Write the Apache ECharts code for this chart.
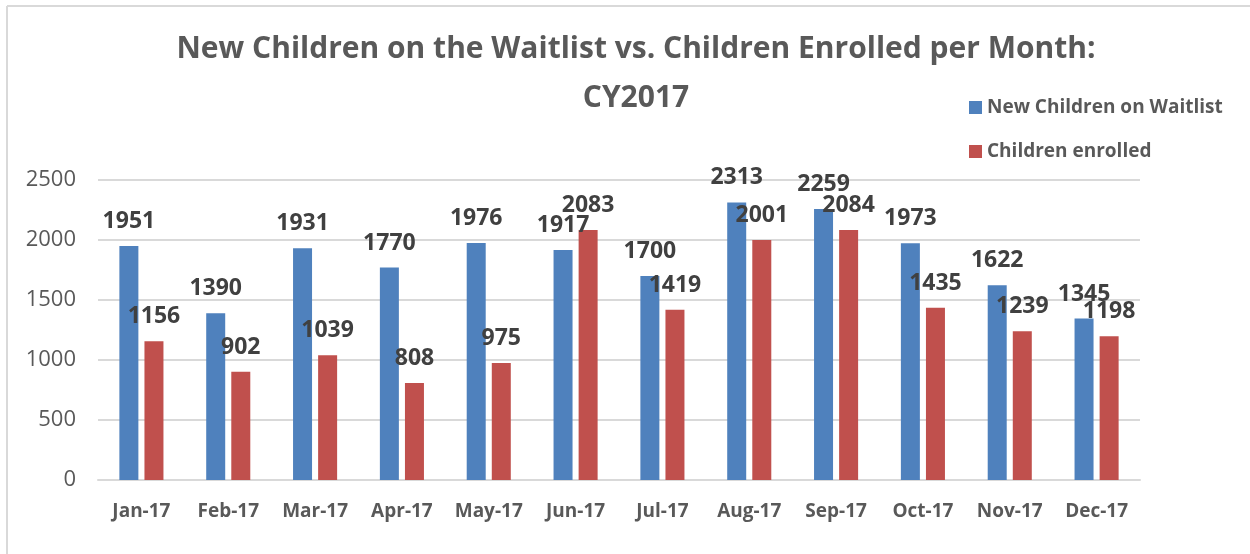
<!DOCTYPE html>
<html>
<head>
<meta charset="utf-8">
<script src="https://cdn.jsdelivr.net/npm/echarts@6/dist/echarts.min.js"></script>
<style>
  html, body { margin: 0; padding: 0; background: #fff; }
  #main { width: 1250px; height: 554px; }
</style>
</head>
<body>
<div id="main"></div>
<script>
var months = ["Jan-17", "Feb-17", "Mar-17", "Apr-17", "May-17", "Jun-17",
  "Jul-17", "Aug-17", "Sep-17", "Oct-17", "Nov-17", "Dec-17"];
var waitlist = [1951, 1390, 1931, 1770, 1976, 1917, 1700, 2313, 2259, 1973, 1622, 1345];
var enrolled = [1156, 902, 1039, 808, 975, 2083, 1419, 2001, 2084, 1435, 1239, 1198];
var yTicks = [0, 500, 1000, 1500, 2000, 2500];

var myChart = echarts.init(document.getElementById("main"));
window.addEventListener("resize", function () {
  myChart.resize();
});

var textColor = "#595959";
var fontName = "'Open Sans', 'Liberation Sans', sans-serif";

var labelStyle = {
  show: true,
  position: "top",
  distance: 13,
  color: "#404040",
  fontSize: 23,
  fontWeight: "bold",
  fontFamily: fontName
};

option = {
  animation: false,
  backgroundColor: "#fff",
  title: {
    text: "New Children on the Waitlist vs. Children Enrolled per Month:\nCY2017",
    left: 631,
    textAlign: "center",
    top: 20,
    textStyle: {
      color: textColor,
      fontSize: 30,
      fontWeight: "bold",
      fontFamily: fontName,
      lineHeight: 49
    }
  },
  legend: {
    orient: "vertical",
    left: 964,
    top: 93,
    itemGap: 25,
    itemWidth: 13,
    itemHeight: 13,
    icon: "rect",
    textStyle: {
      color: textColor,
      fontSize: 19,
      fontWeight: "bold",
      fontFamily: fontName
    }
  },
  graphic: [
    { type: "line", shape: { x1: 7, y1: 6, x2: 1250, y2: 6 }, style: { stroke: "#d9d9d9", lineWidth: 2 } },
    { type: "line", shape: { x1: 7, y1: 6, x2: 7, y2: 554 }, style: { stroke: "#d9d9d9", lineWidth: 2 } }
  ],
  grid: { left: 98, right: 110, top: 180, bottom: 74 },
  xAxis: {
    type: "category",
    data: months,
    axisTick: { show: false },
    axisLine: { lineStyle: { color: "#d9d9d9", width: 2 } },
    axisLabel: {
      interval: 0,
      color: textColor,
      fontSize: 19,
      fontWeight: "bold",
      fontFamily: fontName,
      margin: 22
    }
  },
  yAxis: {
    type: "value",
    min: yTicks[0],
    max: yTicks[yTicks.length - 1],
    interval: yTicks[1] - yTicks[0],
    axisLine: { show: false },
    axisTick: { show: false },
    splitLine: { lineStyle: { color: "#d9d9d9", width: 2 } },
    axisLabel: {
      color: textColor,
      fontSize: 22,
      fontFamily: fontName,
      margin: 22,
      formatter: function (v) { return String(v); }
    }
  },
  series: [
    {
      name: "New Children on Waitlist",
      type: "bar",
      data: waitlist,
      barWidth: 19,
      barGap: "32%",
      itemStyle: { color: "#4F81BD" },
      label: labelStyle
    },
    {
      name: "Children enrolled",
      type: "bar",
      data: enrolled,
      barWidth: 19,
      itemStyle: { color: "#C0504D" },
      label: labelStyle
    }
  ]
};

myChart.setOption(option);
</script>
</body>
</html>
